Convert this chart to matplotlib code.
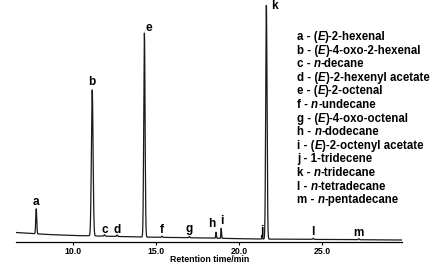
import numpy as np
import matplotlib
matplotlib.use("Agg")
import matplotlib.pyplot as plt

plt.rcParams["font.family"] = "Liberation Sans"
plt.rcParams["font.weight"] = "bold"

# peak list (time in min, height above baseline)
peak_labels = ["a", "b", "c", "d", "e", "f", "g", "h", "i", "j", "k", "l", "m"]
peak_times = [7.79, 11.16, 11.89, 12.66, 14.30, 15.36, 17.00, 18.61, 18.92, 21.39, 21.64, 24.46, 27.20]
peak_heights = [25, 146, 1.5, 1.5, 204, 1.2, 1.2, 6, 10, 4, 234, 1.2, 1.0]
peak_widths = [0.03, 0.05, 0.03, 0.03, 0.04, 0.03, 0.03, 0.02, 0.02, 0.02, 0.04, 0.03, 0.03]

# baseline drift read at a few points
base_t = [6.58, 7.5, 8.5, 10.0, 11.5, 14.0, 18.0, 21.0, 29.82]
base_y = [9.5, 8.5, 7.5, 6.5, 6, 5, 4, 3, 2]

# label anchor points (time, signal) for the peak letters
label_t = [7.79, 11.16, 11.90, 12.67, 14.56, 15.36, 17.00, 18.33, 18.97, 21.37, 22.1, 24.46, 27.2]
label_y = [40, 160, 12, 12, 214, 12, 12.7, 18, 21.5, 11.3, 236, 10.3, 9.3]

# compound names, *...* marks the italic part
names = [
    "a - (*E*)-2-hexenal",
    "b - (*E*)-4-oxo-2-hexenal",
    "c - *n*-decane",
    "d - (*E*)-2-hexenyl acetate",
    "e - (*E*)-2-octenal",
    "f - *n*-undecane",
    "g - (*E*)-4-oxo-octenal",
    "h - *n*-dodecane",
    "i - (*E*)-2-octenyl acetate",
    "j - 1-tridecene",
    "k - *n*-tridecane",
    "l - *n*-tetradecane",
    "m - *n*-pentadecane",
]

t = np.linspace(6.58, 29.82, 6000)
signal = np.interp(t, base_t, base_y)
for t0, h, w in zip(peak_times, peak_heights, peak_widths):
    signal = signal + h * np.exp(-0.5 * ((t - t0) / w) ** 2)

fig = plt.figure(figsize=(4.48, 2.64), dpi=100)
ax = fig.add_axes([0.036, 0.0833, 0.862, 0.909])
ax.plot(t, signal, color="#1a1a1a", lw=0.9)
ax.set_xlim(6.58, 29.82)
ax.set_ylim(0, 240)

for s in ["top", "right", "left"]:
    ax.spines[s].set_visible(False)
ax.spines["bottom"].set_linewidth(0.9)
ax.set_yticks([])
ax.set_xticks([10, 15, 20, 25])
ax.set_xticklabels(["10.0", "15.0", "20.0", "25.0"], fontsize=6.3, fontweight="bold")
ax.tick_params(axis="x", length=2.5, width=0.8, pad=1.2)
ax.set_xlabel("Retention time/min", fontsize=6.3, fontweight="bold", va="center")
ax.xaxis.set_label_coords(0.5, -0.074)

for lab, x, y in zip(peak_labels, label_t, label_y):
    ax.text(x, y, lab, fontsize=8.5, fontweight="bold", ha="center", va="center")

# legend text, drawn piece by piece so the italic parts stay in the same font
renderer = fig.canvas.get_renderer()
W = fig.bbox.width
for i, name in enumerate(names):
    y = 1 - (40 + i * 13.6) / 264
    x = 0.663
    for j, piece in enumerate(name.split("*")):
        if not piece:
            continue
        style = "italic" if j % 2 else "normal"
        txt = fig.text(x, y, piece, fontsize=8.3, fontweight="bold", fontstyle=style,
                       ha="left", va="baseline")
        x += txt.get_window_extent(renderer).width / W

fig.savefig("out.png", dpi=100)
